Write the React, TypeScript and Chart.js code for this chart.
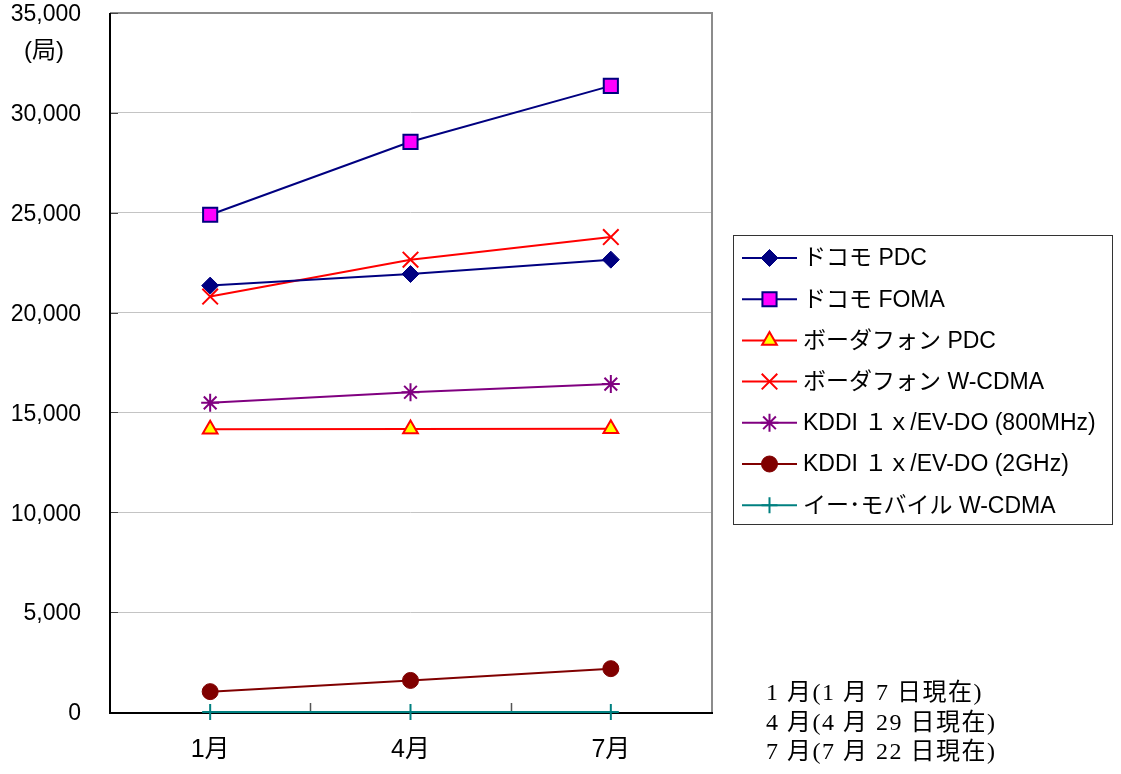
import { useEffect, useRef } from 'react';
import { Chart, registerables } from 'chart.js';
import { drawPoint } from 'chart.js/helpers';

Chart.register(...registerables);

// Survey months (x categories)
const months = ['1月', '4月', '7月'];

// Base station counts per carrier system
const docomoPdc = [21350, 21930, 22650];
const docomoFoma = [24900, 28550, 31350];
const vodafonePdc = [14160, 14170, 14180];
const vodafoneWcdma = [20800, 22650, 23780];
const kddi800 = [15480, 16010, 16420];
const kddi2g = [1020, 1580, 2170];
const emobileWcdma = [0, 0, 0];

const seriesNames = [
  'ドコモ PDC',
  'ドコモ FOMA',
  'ボーダフォン PDC',
  'ボーダフォン W-CDMA',
  'KDDI １ｘ/EV-DO (800MHz)',
  'KDDI １ｘ/EV-DO (2GHz)',
  'イー･モバイル W-CDMA',
];

const yMax = 35000;
const yStep = 5000;
const unitLabel = '(局)';
const dateNotes = ['1 月(1 月 7 日現在)', '4 月(4 月 29 日現在)', '7 月(7 月 22 日現在)'];

const SANS = '"Liberation Sans", "Noto Sans CJK JP", sans-serif';
const SERIF = '"Liberation Serif", "Noto Sans CJK JP", serif';

const decorPlugin = {
  id: 'decor',
  beforeDatasetsDraw(chart: any) {
    const { ctx, chartArea } = chart;
    const { left, right, top, bottom } = chartArea;
    const xs = chart.scales.x;
    const ys = chart.scales.y;
    ctx.save();
    // plot frame: grey top/right, black axes
    ctx.lineWidth = 2;
    ctx.strokeStyle = '#8c8c8c';
    ctx.beginPath();
    ctx.moveTo(left, top);
    ctx.lineTo(right + 1, top);
    ctx.lineTo(right + 1, bottom);
    ctx.stroke();
    // tick marks between categories, pointing into the plot
    ctx.strokeStyle = '#555';
    ctx.lineWidth = 1.5;
    ctx.beginPath();
    for (let i = 0; i < months.length - 1; i++) {
      const mid = Math.round((xs.getPixelForTick(i) + xs.getPixelForTick(i + 1)) / 2) + 0.5;
      ctx.moveTo(mid, bottom);
      ctx.lineTo(mid, bottom - 9);
    }
    ctx.stroke();
    // value-axis tick marks, pointing into the plot
    ctx.strokeStyle = '#444';
    ctx.lineWidth = 1;
    ctx.beginPath();
    ys.ticks.forEach((t: any) => {
      const py = Math.round(ys.getPixelForValue(t.value)) + 0.5;
      ctx.moveTo(left, py);
      ctx.lineTo(left + 8, py);
    });
    ctx.stroke();
    ctx.strokeStyle = '#000';
    ctx.lineWidth = 2;
    ctx.beginPath();
    ctx.moveTo(left, top);
    ctx.lineTo(left, bottom + 1);
    ctx.lineTo(right + 2, bottom + 1);
    ctx.stroke();
    ctx.restore();
  },
  afterDraw(chart: any) {
    const { ctx } = chart;
    ctx.save();
    // unit label under the top tick
    ctx.fillStyle = '#000';
    ctx.font = `24px ${SANS}`;
    ctx.textAlign = 'center';
    ctx.textBaseline = 'middle';
    ctx.fillText(unitLabel, 44, 51);

    // legend box
    const bx = 733.5, by = 235.5, bw = 379, bh = 289;
    ctx.fillStyle = '#fff';
    ctx.fillRect(bx, by, bw, bh);
    ctx.strokeStyle = '#333';
    ctx.lineWidth = 1;
    ctx.strokeRect(bx, by, bw, bh);
    chart.data.datasets.forEach((ds: any, i: number) => {
      const y = 258 + i * 41.2;
      ctx.strokeStyle = ds.borderColor;
      ctx.lineWidth = ds.borderWidth;
      ctx.beginPath();
      ctx.moveTo(742, y);
      ctx.lineTo(797, y);
      ctx.stroke();
      ctx.fillStyle = ds.pointBackgroundColor;
      ctx.strokeStyle = ds.pointBorderColor;
      ctx.lineWidth = ds.pointBorderWidth;
      drawPoint(ctx, {
        pointStyle: ds.pointStyle,
        rotation: 0,
        radius: ds.pointRadius,
        borderWidth: ds.pointBorderWidth,
      } as any, 769.5, y);
      ctx.fillStyle = '#000';
      ctx.font = `23px ${SANS}`;
      ctx.textAlign = 'left';
      ctx.textBaseline = 'middle';
      ctx.fillText(ds.label, 803, y + 1);
    });

    // survey date notes
    ctx.font = `24px ${SERIF}`;
    (ctx as any).letterSpacing = '1.5px';
    ctx.fillStyle = '#000';
    ctx.textAlign = 'left';
    ctx.textBaseline = 'middle';
    dateNotes.forEach((t, i) => ctx.fillText(t, 766, 694 + i * 29.5));
    (ctx as any).letterSpacing = '0px';
    ctx.restore();
  },
};

function makeSeries(
  label: string,
  data: number[],
  line: string,
  pointStyle: string,
  radius: number,
  fill: string,
  border: string,
  pbw: number,
) {
  return {
    label,
    data,
    borderColor: line,
    borderWidth: 2,
    pointStyle,
    pointRadius: radius,
    pointHoverRadius: radius,
    pointBackgroundColor: fill,
    pointBorderColor: border,
    pointBorderWidth: pbw,
    fill: false,
    tension: 0,
    clip: false,
  };
}

export default function App() {
  const ref = useRef<HTMLCanvasElement | null>(null);

  useEffect(() => {
    if (!ref.current) return;
    const chart = new Chart(ref.current, {
      type: 'line',
      data: {
        labels: months,
        datasets: [
          makeSeries(seriesNames[0], docomoPdc, '#000080', 'rectRot', 8.5, '#000080', '#000080', 1),
          makeSeries(seriesNames[1], docomoFoma, '#000080', 'rect', 10, '#ff00ff', '#000080', 2),
          makeSeries(seriesNames[2], vodafonePdc, '#ff0000', 'triangle', 8.5, '#ffff00', '#ff0000', 2),
          makeSeries(seriesNames[3], vodafoneWcdma, '#ff0000', 'crossRot', 11, '#ff0000', '#ff0000', 2),
          makeSeries(seriesNames[4], kddi800, '#800080', 'star', 9, '#800080', '#800080', 2),
          makeSeries(seriesNames[5], kddi2g, '#800000', 'circle', 8, '#800000', '#800000', 1),
          makeSeries(seriesNames[6], emobileWcdma, '#008080', 'cross', 8, '#008080', '#008080', 2),
        ] as any,
      },
      options: {
        responsive: false,
        animation: false,
        layout: { padding: { top: 12, right: 410, left: 0, bottom: 0 } },
        plugins: {
          legend: { display: false },
          tooltip: { enabled: false },
        },
        scales: {
          x: {
            offset: true,
            grid: { display: false, drawTicks: false },
            border: { display: false },
            ticks: {
              color: '#000',
              font: { family: SANS, size: 25 },
              padding: 23,
              maxRotation: 0,
            },
            afterFit: (s: any) => {
              s.height = 62;
            },
          },
          y: {
            min: 0,
            max: yMax,
            grid: {
              drawTicks: false,
              lineWidth: 1,
              color: (c: any) =>
                c.tick && (c.tick.value === 0 || c.tick.value === yMax) ? 'rgba(0,0,0,0)' : '#c4c4c4',
            },
            border: { display: false },
            ticks: {
              stepSize: yStep,
              color: '#000',
              padding: 29,
              labelOffset: 2,
              font: { family: SANS, size: 23, lineHeight: 1 },
              callback: (v: any) => Number(v).toLocaleString('en-US'),
            },
            afterFit: (s: any) => {
              s.width = 110;
              s.paddingTop = 0;
              s.paddingBottom = 0;
            },
          },
        },
      } as any,
      plugins: [decorPlugin],
    });
    return () => chart.destroy();
  }, []);

  return (
    <div style={{ position: 'absolute', left: 0, top: 0, width: 1121, height: 774, background: '#fff' }}>
      <canvas ref={ref} width={1121} height={774} style={{ display: 'block', width: 1121, height: 774 }} />
    </div>
  );
}
